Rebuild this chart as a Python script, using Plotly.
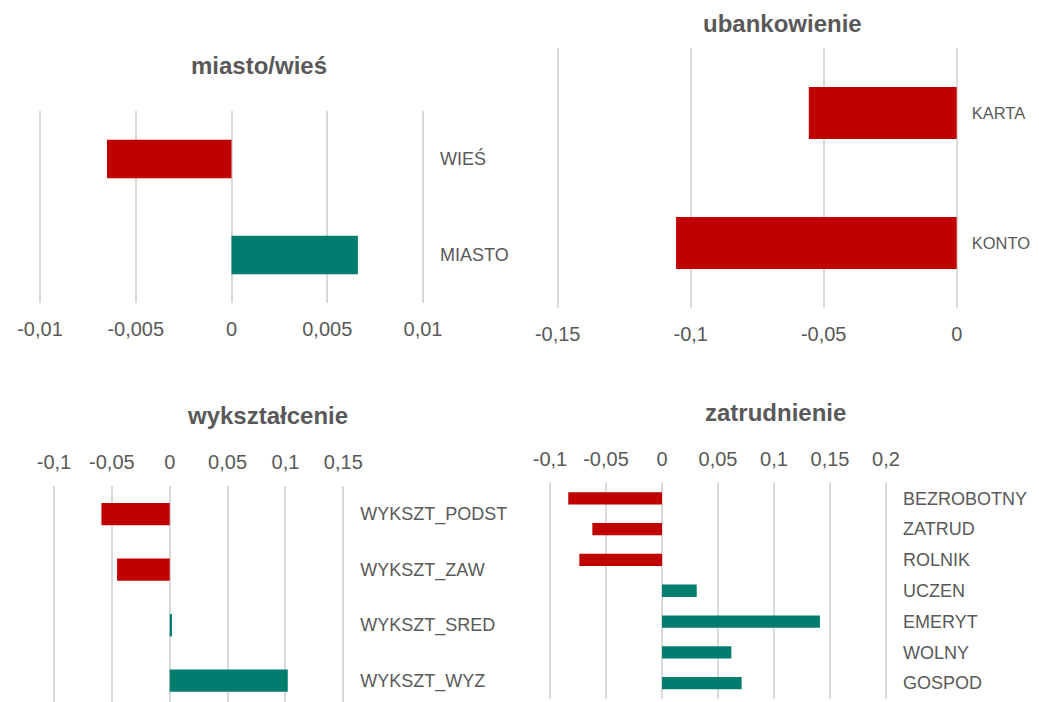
import plotly.graph_objects as go

# The page places the figure 8px from the top-left corner of the window.
OFF = 8
W, H = 1039 - OFF, 702 - OFF

# ---- data ----
miasto_cats = ["WIEŚ", "MIASTO"]
miasto_vals = [-0.0065, 0.0066]

bank_cats = ["KARTA", "KONTO"]
bank_vals = [-0.0556, -0.1055]

wyk_cats = ["WYKSZT_PODST", "WYKSZT_ZAW", "WYKSZT_SRED", "WYKSZT_WYZ"]
wyk_vals = [-0.059, -0.0455, 0.002, 0.102]

zat_cats = ["BEZROBOTNY", "ZATRUD", "ROLNIK", "UCZEN", "EMERYT", "WOLNY", "GOSPOD"]
zat_vals = [-0.0837, -0.0622, -0.0738, 0.031, 0.141, 0.0619, 0.0711]

miasto_ticks = [-0.01, -0.005, 0, 0.005, 0.01]
miasto_ticktext = ["-0,01", "-0,005", "0", "0,005", "0,01"]
bank_ticks = [-0.15, -0.1, -0.05, 0]
bank_ticktext = ["-0,15", "-0,1", "-0,05", "0"]
wyk_ticks = [-0.1, -0.05, 0, 0.05, 0.1, 0.15]
wyk_ticktext = ["-0,1", "-0,05", "0", "0,05", "0,1", "0,15"]
zat_ticks = [-0.1, -0.05, 0, 0.05, 0.1, 0.15, 0.2]
zat_ticktext = ["-0,1", "-0,05", "0", "0,05", "0,1", "0,15", "0,2"]

titles = ["miasto/wieś", "ubankowienie", "wykształcenie", "zatrudnienie"]

RED = "#C00000"
TEAL = "#007D6F"
GRID = "#D9D9D9"
TXT = "#595959"
FONT = "Liberation Sans, Arial, sans-serif"
PAD = 2  # px of padding beyond the outermost gridlines


def colors(vals):
    return [RED if v < 0 else TEAL for v in vals]


panels = [
    # cats, vals, ticks, ticktext, xrange, x px (first,last grid), y px band, xside, label size, standoff
    (miasto_cats, miasto_vals, miasto_ticks, miasto_ticktext, [-0.01, 0.01],
     (40, 423), (111, 303), "bottom", 18, 14),
    (bank_cats, bank_vals, bank_ticks, bank_ticktext, [-0.15, 0],
     (557.7, 956.7), (48, 308), "bottom", 16.5, 12),
    (wyk_cats, wyk_vals, wyk_ticks, wyk_ticktext, [-0.1, 0.15],
     (54, 343.3), (486.3, 708.5), "top", 18, 14),
    (zat_cats, zat_vals, zat_ticks, zat_ticktext, [-0.1, 0.2],
     (550, 886), (483, 698.5), "top", 18, 14),
]

fig = go.Figure()
layout = dict(
    width=W, height=H,
    margin=dict(l=0, r=0, t=0, b=0, autoexpand=False),
    paper_bgcolor="white", plot_bgcolor="white",
    showlegend=False,
    font=dict(family=FONT, color=TXT),
)

for i, (cats, vals, ticks, ttext, xr, xd, yd, xside, lsize, lstand) in enumerate(panels, start=1):
    sfx = "" if i == 1 else str(i)
    upx = (xr[1] - xr[0]) / (xd[1] - xd[0])
    xr_p = [xr[0] - PAD * upx, xr[1] + PAD * upx]
    xdom = [(xd[0] - OFF - PAD) / W, (xd[1] - OFF + PAD) / W]
    n = len(cats)
    step = (yd[1] - yd[0]) / n
    top_px = yd[0] - OFF
    bot_px = min(yd[1] - OFF, H)
    yr = [-0.5 + (bot_px - top_px) / step, -0.5]
    ydom = [1 - bot_px / H, 1 - top_px / H]
    fig.add_trace(go.Bar(
        x=vals, y=cats, orientation="h", width=0.4,
        marker=dict(color=colors(vals), line=dict(width=0)),
        xaxis="x" + sfx, yaxis="y" + sfx,
    ))
    layout["xaxis" + sfx] = dict(
        domain=xdom, range=xr_p, anchor="y" + sfx, side=xside, automargin=False,
        tickvals=ticks, ticktext=ttext, showgrid=True, gridcolor=GRID, gridwidth=1.5,
        zeroline=False, showline=False, ticks="", ticklabelstandoff=12,
        tickfont=dict(size=20, color=TXT, family=FONT), fixedrange=True,
    )
    layout["yaxis" + sfx] = dict(
        domain=ydom, range=yr, anchor="x" + sfx, side="right", automargin=False,
        type="category", categoryorder="array", categoryarray=cats,
        showgrid=False, zeroline=False, showline=False, ticks="",
        ticklabelstandoff=lstand,
        tickfont=dict(size=lsize, color=TXT, family=FONT), fixedrange=True,
    )

title_pos = [(259, 65), (782, 23), (267, 415), (775, 412)]
layout["annotations"] = [
    dict(text="<b>%s</b>" % t, x=(x - OFF) / W, y=1 - (y - OFF) / H,
         xref="paper", yref="paper",
         xanchor="center", yanchor="middle", showarrow=False,
         font=dict(size=24, color=TXT, family=FONT))
    for t, (x, y) in zip(titles, title_pos)
]

fig.update_layout(**layout)
fig.write_html("out.html")
